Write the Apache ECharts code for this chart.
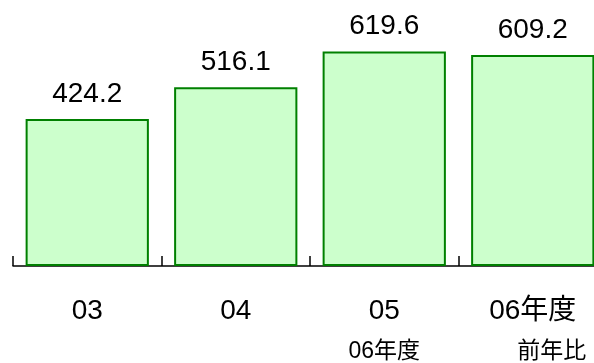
<!DOCTYPE html>
<html>
<head>
<meta charset="utf-8">
<script src="https://cdn.jsdelivr.net/npm/echarts@6/dist/echarts.min.js"></script>
<style>
  html, body { margin: 0; padding: 0; background: #fff; }
  #chart { width: 594px; height: 363px; }
</style>
</head>
<body>
<div id="chart"></div>
<script>
// Fiscal years and their values
const categories = ['03', '04', '05', '06年度'];
const values = [424.2, 516.1, 619.6, 609.2];
// Second line printed under some year labels
const subLabels = ['', '', '06年度', '前年比'];

const FONT = '"Liberation Sans", "Noto Sans CJK JP", sans-serif';

const chart = echarts.init(document.getElementById('chart'), null, { renderer: 'canvas' });

chart.setOption({
  animation: false,
  backgroundColor: '#ffffff',
  // the plot runs past the right edge of the canvas, so the last band is clipped
  grid: { left: 13, width: 594, top: 0, bottom: 97, outerBoundsMode: 'none' },
  xAxis: {
    type: 'category',
    data: categories,
    boundaryGap: true,
    axisLine: { show: true, lineStyle: { color: '#000', width: 1.5 } },
    axisTick: { show: true, inside: true, length: 10, lineStyle: { color: '#000', width: 1.5 } },
    axisLabel: {
      margin: 30,
      interval: 0,
      formatter: function (v, i) {
        const sub = subLabels[i];
        if (!sub) return '{a|' + v + '}';
        return '{a|' + v + '}\n{' + (i === 3 ? 'c' : 'b') + '|' + sub + '}';
      },
      rich: {
        a: { fontSize: 28, lineHeight: 30, color: '#000', fontFamily: FONT },
        b: { fontSize: 23, lineHeight: 52, color: '#000', fontFamily: FONT },
        c: { fontSize: 23, lineHeight: 52, color: '#000', fontFamily: FONT, padding: [0, 0, 0, 38] }
      }
    },
    splitLine: { show: false }
  },
  yAxis: {
    type: 'value',
    min: 0,
    max: 768,
    show: false,
    splitLine: { show: false }
  },
  series: [{
    type: 'bar',
    data: values,
    barCategoryGap: '17%',
    itemStyle: { color: '#ccffcc', borderColor: '#008000', borderWidth: 2 },
    label: {
      show: true,
      position: 'top',
      distance: 11,
      fontSize: 28,
      color: '#000',
      fontFamily: FONT,
      formatter: function (p) { return p.value.toFixed(1); }
    }
  }]
});
</script>
</body>
</html>
